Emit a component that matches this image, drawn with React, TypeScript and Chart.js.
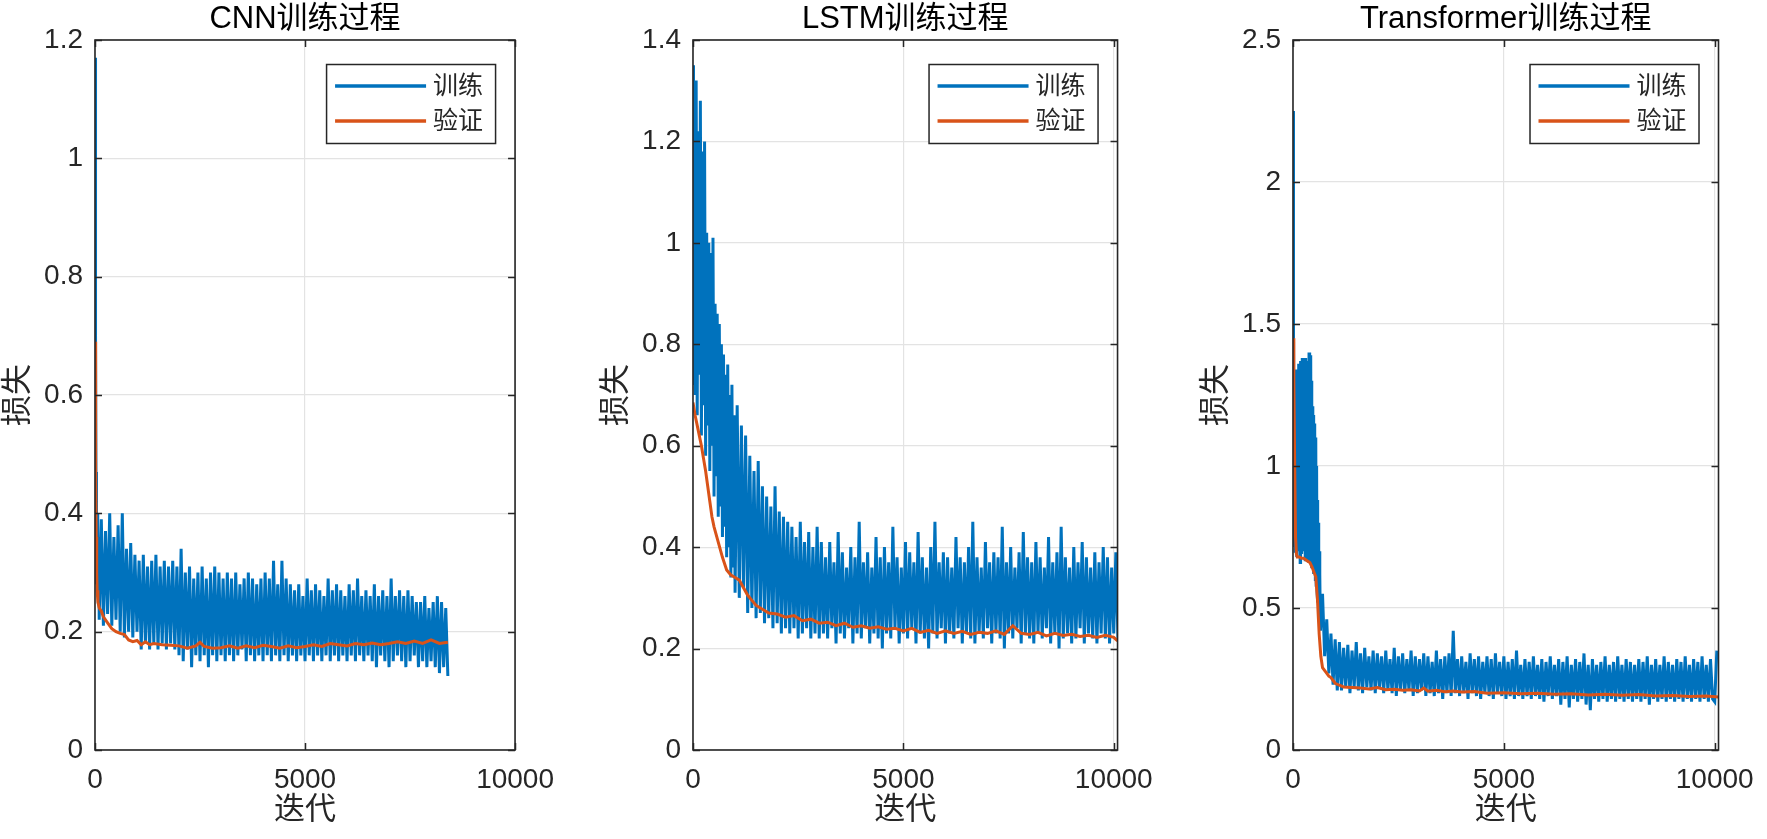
import React, { useEffect, useRef } from 'react';
import { Chart, registerables } from 'chart.js';

Chart.register(...registerables);

// ---------------- data ----------------
const seriesLabels = ['训练', '验证'];
const panelTitles = ['CNN训练过程', 'LSTM训练过程', 'Transformer训练过程'];
const xAxisLabel = '迭代';
const yAxisLabel = '损失';

const xTicks = [0, 5000, 10000];
const xTickLabels = ['0', '5000', '10000'];
const cnnXMax = 10000;
const lstmXMax = 10090;
const transXMax = 10090;

const cnnYTicks = [0, 0.2, 0.4, 0.6, 0.8, 1, 1.2];
const cnnYTickLabels = ['0', '0.2', '0.4', '0.6', '0.8', '1', '1.2'];
const lstmYTicks = [0, 0.2, 0.4, 0.6, 0.8, 1, 1.2, 1.4];
const lstmYTickLabels = ['0', '0.2', '0.4', '0.6', '0.8', '1', '1.2', '1.4'];
const transYTicks = [0, 0.5, 1, 1.5, 2, 2.5];
const transYTickLabels = ['0', '0.5', '1', '1.5', '2', '2.5'];

// training loss: early iterations listed explicitly, then one value every `trainBodyStep` iterations
const trainBodyStep = 50;

const cnnTrainHeadIter = [0, 5, 10, 15, 20, 25, 30, 40, 50, 60, 70, 80, 90];
const cnnTrainHeadLoss = [1.17, 0.8, 1.02, 0.55, 0.7, 0.42, 0.47, 0.28, 0.4, 0.26, 0.39, 0.25, 0.36];
const cnnTrainBodyStart = 100;
const cnnTrainLoss = [
  0.22, 0.39, 0.21, 0.37, 0.23, 0.4, 0.21, 0.36, 0.22, 0.38,
  0.2, 0.4, 0.19, 0.34, 0.2, 0.35, 0.19, 0.33, 0.2,
  0.32, 0.17, 0.33, 0.18, 0.31, 0.17, 0.32, 0.18, 0.33, 0.17, 0.31, 0.18, 0.32, 0.17, 0.31, 0.18, 0.32, 0.17, 0.31,
  0.16, 0.34, 0.15, 0.3, 0.17, 0.31, 0.14, 0.29, 0.16, 0.3, 0.15, 0.31, 0.16, 0.29, 0.14, 0.3, 0.16, 0.31, 0.15, 0.3, 0.16, 0.29, 0.15, 0.3,
  0.16, 0.29, 0.15, 0.3, 0.16, 0.28, 0.17, 0.29, 0.15, 0.3, 0.16, 0.29, 0.15, 0.28, 0.16, 0.29, 0.15, 0.3, 0.16, 0.29, 0.15, 0.32, 0.16, 0.28, 0.15, 0.32, 0.16, 0.29, 0.15, 0.28, 0.16,
  0.27, 0.15, 0.28, 0.16, 0.26, 0.15, 0.29, 0.16, 0.27, 0.15, 0.28, 0.16, 0.27, 0.15, 0.26, 0.16, 0.29, 0.15, 0.27, 0.16, 0.28, 0.15, 0.27, 0.16, 0.26, 0.15, 0.28, 0.16, 0.27, 0.15,
  0.29, 0.16, 0.26, 0.15, 0.27, 0.16, 0.26, 0.15, 0.28, 0.14, 0.26, 0.16, 0.27, 0.15, 0.26, 0.14, 0.29, 0.15, 0.26, 0.16, 0.27, 0.15, 0.26, 0.14, 0.27, 0.15, 0.26, 0.16, 0.25,
  0.14, 0.25, 0.15, 0.26, 0.14, 0.24, 0.15, 0.25, 0.14, 0.26, 0.13, 0.25, 0.14, 0.24, 0.125,
];
const cnnValIter = [0, 10, 20, 30, 40, 50, 70, 100, 150, 200, 300, 400, 500, 600, 700, 800, 900, 1000, 1100, 1200, 1300, 1400, 1600, 1800, 2000, 2200, 2400, 2500, 2600, 2800, 3000, 3200, 3400, 3600, 3800, 4000, 4200, 4400, 4600, 4800, 5000, 5200, 5400, 5600, 5800, 6000, 6200, 6400, 6600, 6800, 7000, 7200, 7400, 7600, 7800, 8000, 8200, 8400];
const cnnValLoss = [0.69, 0.55, 0.45, 0.36, 0.3, 0.27, 0.25, 0.24, 0.235, 0.225, 0.215, 0.205, 0.2, 0.197, 0.195, 0.186, 0.183, 0.185, 0.178, 0.183, 0.178, 0.18, 0.178, 0.177, 0.176, 0.172, 0.176, 0.182, 0.175, 0.172, 0.173, 0.176, 0.172, 0.176, 0.173, 0.177, 0.175, 0.172, 0.176, 0.173, 0.175, 0.178, 0.175, 0.18, 0.178, 0.176, 0.18, 0.178, 0.181, 0.178, 0.18, 0.183, 0.18, 0.184, 0.18, 0.186, 0.18, 0.182];

const lstmTrainHeadIter = [0, 5, 10, 15, 20, 25, 50, 75, 100, 125, 150, 175, 200, 225, 250, 275, 300, 325, 350, 375, 400, 425, 450, 475, 500, 525, 550, 575, 600, 625, 650, 675, 700, 725, 750, 775, 800, 825, 850, 875, 900, 925, 950, 975, 1000];
const lstmTrainHeadLoss = [0.75, 1.3, 0.8, 1.35, 0.72, 1.25, 0.7, 1.32, 0.66, 1.22, 0.74, 1.28, 0.62, 1.18, 0.68, 1.2, 0.58, 1.02, 0.64, 1.0, 0.55, 0.98, 0.6, 1.01, 0.5, 0.88, 0.54, 0.86, 0.46, 0.84, 0.48, 0.8, 0.42, 0.78, 0.44, 0.74, 0.38, 0.76, 0.4, 0.7, 0.34, 0.72, 0.36, 0.66, 0.31];
const lstmTrainBodyStart = 1050;
const lstmTrainLoss = [
  0.68, 0.3, 0.64, 0.32, 0.62,
  0.27, 0.58, 0.28, 0.55, 0.26, 0.57, 0.27, 0.52,
  0.25, 0.5, 0.26, 0.48, 0.24, 0.52, 0.25, 0.47, 0.23, 0.46, 0.24, 0.45,
  0.23, 0.44, 0.24, 0.42, 0.22, 0.45, 0.23, 0.41, 0.24, 0.43, 0.22, 0.4, 0.23, 0.44, 0.22, 0.41,
  0.23, 0.38, 0.22, 0.41, 0.24, 0.37, 0.21, 0.43, 0.23, 0.39,
  0.22, 0.36, 0.24, 0.4, 0.21, 0.38, 0.23, 0.45, 0.22, 0.37,
  0.24, 0.39, 0.21, 0.36, 0.23, 0.42, 0.22, 0.38, 0.2, 0.4,
  0.23, 0.37, 0.22, 0.44, 0.24, 0.38, 0.21, 0.36, 0.23, 0.41,
  0.22, 0.39, 0.24, 0.37, 0.21, 0.43, 0.23, 0.38, 0.22, 0.36,
  0.2, 0.4, 0.23, 0.45, 0.22, 0.37, 0.24, 0.39, 0.21, 0.38,
  0.23, 0.36, 0.22, 0.42, 0.24, 0.38, 0.21, 0.37, 0.23, 0.4,
  0.22, 0.45, 0.21, 0.38, 0.23, 0.36, 0.22, 0.41, 0.24, 0.37,
  0.21, 0.39, 0.23, 0.38, 0.22, 0.44, 0.2, 0.37, 0.23, 0.4,
  0.22, 0.36, 0.24, 0.39, 0.21, 0.43, 0.23, 0.38, 0.22, 0.37,
  0.21, 0.41, 0.23, 0.38, 0.22, 0.36, 0.24, 0.42, 0.21, 0.37,
  0.23, 0.39, 0.2, 0.44, 0.22, 0.38, 0.23, 0.36, 0.21, 0.4,
  0.22, 0.37, 0.24, 0.41, 0.21, 0.38, 0.23, 0.36, 0.22, 0.39,
  0.21, 0.37, 0.23, 0.4, 0.22, 0.38, 0.21, 0.36, 0.23, 0.39,
  0.22,
];
const lstmValIter = [0, 50, 100, 150, 200, 250, 300, 350, 400, 450, 500, 600, 700, 800, 900, 1000, 1100, 1200, 1300, 1400, 1500, 1600, 1700, 1800, 2000, 2200, 2400, 2600, 2800, 3000, 3200, 3400, 3600, 3800, 4000, 4200, 4400, 4600, 4800, 5000, 5200, 5400, 5600, 5800, 6000, 6200, 6400, 6600, 6800, 7000, 7200, 7400, 7600, 7800, 8000, 8200, 8400, 8600, 8800, 9000, 9200, 9400, 9600, 9800, 10000, 10090];
const lstmValLoss = [0.685, 0.66, 0.64, 0.62, 0.6, 0.575, 0.55, 0.52, 0.49, 0.46, 0.44, 0.41, 0.38, 0.355, 0.345, 0.34, 0.335, 0.32, 0.305, 0.295, 0.285, 0.28, 0.275, 0.27, 0.268, 0.262, 0.265, 0.255, 0.258, 0.25, 0.252, 0.245, 0.25, 0.242, 0.245, 0.24, 0.243, 0.238, 0.24, 0.235, 0.24, 0.232, 0.236, 0.23, 0.235, 0.23, 0.234, 0.228, 0.232, 0.23, 0.235, 0.228, 0.245, 0.23, 0.228, 0.232, 0.225, 0.23, 0.226, 0.228, 0.224, 0.226, 0.222, 0.226, 0.222, 0.215];

const transTrainHeadIter = [0, 5, 10, 15, 20, 30, 40, 50, 60, 70, 80, 90, 100, 110, 120, 130, 140, 150, 160, 170, 180, 190, 200, 210, 220, 230, 240, 250, 260, 270, 280, 290, 300, 310, 320, 330, 340, 350, 360, 370, 380, 390, 400, 410, 420, 430, 440, 450, 460, 470, 480, 490, 500, 510, 520, 530, 540, 550, 560, 570, 580, 590, 600, 610, 620, 630, 640];
const transTrainHeadLoss = [2.25, 1.2, 1.9, 0.9, 1.45, 0.72, 1.3, 0.7, 1.34, 0.78, 1.25, 0.68, 1.33, 0.74, 1.28, 0.7, 1.36, 0.8, 1.3, 0.66, 1.37, 0.75, 1.32, 0.69, 1.38, 0.78, 1.3, 0.7, 1.35, 0.73, 1.27, 0.67, 1.38, 0.76, 1.33, 0.7, 1.37, 0.74, 1.29, 0.66, 1.4, 0.72, 1.34, 0.68, 1.39, 0.75, 1.3, 0.64, 1.21, 0.7, 1.18, 0.62, 1.15, 0.66, 1.12, 0.6, 1.1, 0.58, 1.0, 0.56, 0.88, 0.52, 0.8, 0.5, 0.7, 0.45, 0.62];
const transTrainBodyStart = 650;
const transTrainLoss = [
  0.42, 0.55, 0.33, 0.46, 0.27, 0.41, 0.23, 0.39, 0.21,
  0.38, 0.21, 0.36, 0.22, 0.37, 0.2, 0.35, 0.22, 0.38, 0.21,
  0.34, 0.2, 0.36, 0.22, 0.33, 0.21, 0.35, 0.2, 0.34, 0.22,
  0.33, 0.2, 0.35, 0.21, 0.32, 0.2, 0.36, 0.19, 0.33, 0.21,
  0.34, 0.2, 0.32, 0.21, 0.35, 0.19, 0.33, 0.2, 0.32, 0.21,
  0.34, 0.19, 0.33, 0.2, 0.31, 0.19, 0.35, 0.2, 0.32, 0.18,
  0.33, 0.2, 0.34, 0.19, 0.42, 0.2, 0.32, 0.19, 0.33, 0.2,
  0.31, 0.18, 0.34, 0.2, 0.32, 0.19, 0.33, 0.18, 0.31, 0.2,
  0.33, 0.19, 0.32, 0.18, 0.34, 0.2, 0.31, 0.19, 0.33, 0.18,
  0.31, 0.19, 0.32, 0.18, 0.35, 0.19, 0.3, 0.18, 0.32, 0.19,
  0.31, 0.18, 0.33, 0.19, 0.3, 0.18, 0.32, 0.17, 0.31, 0.19,
  0.33, 0.18, 0.3, 0.19, 0.32, 0.16, 0.31, 0.18, 0.33, 0.15,
  0.3, 0.18, 0.32, 0.17, 0.31, 0.18, 0.34, 0.16, 0.3, 0.14,
  0.32, 0.18, 0.3, 0.17, 0.31, 0.18, 0.33, 0.17, 0.3, 0.18,
  0.31, 0.17, 0.33, 0.18, 0.3, 0.17, 0.32, 0.18, 0.31, 0.17,
  0.3, 0.18, 0.32, 0.17, 0.31, 0.18, 0.33, 0.16, 0.3, 0.18,
  0.32, 0.17, 0.3, 0.18, 0.33, 0.17, 0.31, 0.18, 0.3, 0.17,
  0.32, 0.18, 0.31, 0.17, 0.33, 0.18, 0.3, 0.17, 0.32, 0.18,
  0.31, 0.17, 0.33, 0.18, 0.3, 0.17, 0.32, 0.18, 0.17, 0.35,
];
const transValIter = [0, 20, 40, 60, 80, 100, 150, 200, 250, 300, 350, 400, 450, 500, 540, 580, 620, 660, 700, 775, 850, 900, 1000, 1100, 1200, 1400, 1600, 1800, 2000, 2200, 2400, 2600, 2800, 3000, 3100, 3200, 3400, 3600, 3800, 4000, 4300, 4600, 5000, 5400, 5800, 6200, 6600, 7000, 7400, 7800, 8200, 8600, 9000, 9400, 9800, 10090];
const transValLoss = [1.45, 1.3, 1.0, 0.75, 0.69, 0.68, 0.68, 0.675, 0.675, 0.67, 0.665, 0.66, 0.645, 0.625, 0.61, 0.53, 0.41, 0.33, 0.29, 0.275, 0.26, 0.255, 0.235, 0.228, 0.222, 0.22, 0.218, 0.215, 0.22, 0.212, 0.214, 0.21, 0.212, 0.208, 0.218, 0.207, 0.21, 0.205, 0.208, 0.204, 0.206, 0.2, 0.202, 0.198, 0.2, 0.196, 0.198, 0.194, 0.196, 0.193, 0.195, 0.19, 0.192, 0.188, 0.19, 0.187];

// ---------------- styling ----------------
const FONT = "'Liberation Sans', Arial, 'Noto Sans CJK SC', sans-serif";
const AXIS_COLOR = '#262626';
const TRAIN_COLOR = '#0072BD';
const VAL_COLOR = '#D95319';
const GRID_COLOR = '#E3E3E3';

type Pt = { x: number; y: number };

function trainPoints(headIter: number[], headLoss: number[], bodyStart: number, body: number[]): Pt[] {
  const pts: Pt[] = headIter.map((it, i) => ({ x: it, y: headLoss[i] }));
  body.forEach((v, i) => pts.push({ x: bodyStart + i * trainBodyStep, y: v }));
  return pts;
}
function valPoints(iter: number[], loss: number[]): Pt[] {
  return iter.map((it, i) => ({ x: it, y: loss[i] }));
}

const matlabPlugin = {
  id: 'matlabAxes',
  afterDatasetsDraw(chart: any, _args: any, opts: any) {
    const { ctx, chartArea: a, scales } = chart;
    ctx.save();
    // inward ticks
    ctx.strokeStyle = AXIS_COLOR;
    ctx.lineWidth = 1.5;
    const tl = 7;
    ctx.beginPath();
    scales.x.ticks.forEach((t: any) => {
      const px = Math.round(scales.x.getPixelForValue(t.value)) + 0.5;
      ctx.moveTo(px, a.bottom);
      ctx.lineTo(px, a.bottom - tl);
      ctx.moveTo(px, a.top);
      ctx.lineTo(px, a.top + tl);
    });
    scales.y.ticks.forEach((t: any) => {
      const py = Math.round(scales.y.getPixelForValue(t.value)) + 0.5;
      ctx.moveTo(a.left, py);
      ctx.lineTo(a.left + tl, py);
      ctx.moveTo(a.right, py);
      ctx.lineTo(a.right - tl, py);
    });
    ctx.stroke();
    // box
    ctx.lineWidth = 1.6;
    ctx.strokeRect(a.left, a.top, a.right - a.left, a.bottom - a.top);

    // legend
    const bw = 169;
    const bh = 79;
    const bx = a.right - 20 - bw;
    const by = a.top + 24;
    ctx.fillStyle = '#ffffff';
    ctx.fillRect(bx, by, bw, bh);
    ctx.lineWidth = 1.5;
    ctx.strokeStyle = AXIS_COLOR;
    ctx.strokeRect(bx + 0.5, by + 0.5, bw, bh);
    chart.data.datasets.forEach((ds: any, i: number) => {
      const ly = by + 22 + i * 35;
      ctx.strokeStyle = ds.borderColor;
      ctx.lineWidth = 3.5;
      ctx.beginPath();
      ctx.moveTo(bx + 9, ly);
      ctx.lineTo(bx + 100, ly);
      ctx.stroke();
      ctx.fillStyle = AXIS_COLOR;
      ctx.font = `25px ${FONT}`;
      ctx.textAlign = 'left';
      ctx.textBaseline = 'middle';
      ctx.fillText(ds.label, bx + 107, ly + 1);
    });

    // title
    ctx.fillStyle = '#000000';
    ctx.font = `31px ${FONT}`;
    ctx.textAlign = 'center';
    ctx.textBaseline = 'middle';
    ctx.fillText(opts.title, (a.left + a.right) / 2, 19);
    ctx.restore();
  },
};

type PanelSpec = {
  title: string;
  left: number;
  width: number;
  padRight: number;
  xMax: number;
  yTicks: number[];
  yTickLabels: string[];
  train: Pt[];
  val: Pt[];
};

function makeChart(canvas: HTMLCanvasElement, p: PanelSpec) {
  return new Chart(canvas, {
    type: 'line',
    data: {
      datasets: [
        { label: seriesLabels[0], data: p.train, borderColor: TRAIN_COLOR, borderWidth: 3, pointRadius: 0, tension: 0, order: 2 },
        { label: seriesLabels[1], data: p.val, borderColor: VAL_COLOR, borderWidth: 3, pointRadius: 0, tension: 0, order: 1 },
      ],
    },
    options: {
      responsive: false,
      animation: false,
      events: [],
      layout: { padding: { left: 0, top: 40, right: p.padRight, bottom: 0 } },
      plugins: {
        legend: { display: false },
        tooltip: { enabled: false },
        matlabAxes: { title: p.title },
      } as any,
      scales: {
        x: {
          type: 'linear',
          min: 0,
          max: p.xMax,
          afterBuildTicks: (s: any) => { s.ticks = xTicks.map((v) => ({ value: v })); },
          afterFit: (s: any) => { s.height = 89; },
          grid: { color: GRID_COLOR, lineWidth: 1.2, drawTicks: false },
          border: { display: false },
          ticks: {
            padding: 13,
            color: AXIS_COLOR,
            font: { family: FONT, size: 28 },
            maxRotation: 0,
            callback: (_v: any, i: number) => xTickLabels[i],
          },
          title: { display: true, text: xAxisLabel, color: AXIS_COLOR, font: { family: FONT, size: 31 }, padding: { top: 0, bottom: 10 } },
        },
        y: {
          type: 'linear',
          min: 0,
          max: p.yTicks[p.yTicks.length - 1],
          afterBuildTicks: (s: any) => { s.ticks = p.yTicks.map((v) => ({ value: v })); },
          afterFit: (s: any) => { s.width = 95; },
          grid: { color: GRID_COLOR, lineWidth: 1.2, drawTicks: false },
          border: { display: false },
          ticks: {
            padding: 12,
            color: AXIS_COLOR,
            font: { family: FONT, size: 28 },
            callback: (_v: any, i: number) => p.yTickLabels[i],
          },
          title: { display: true, text: yAxisLabel, color: AXIS_COLOR, font: { family: FONT, size: 31 }, padding: { top: 0, bottom: 0 } },
        },
      },
    } as any,
    plugins: [matlabPlugin],
  });
}

const panels: PanelSpec[] = [
  {
    title: panelTitles[0], left: 0, width: 567, padRight: 35, xMax: cnnXMax,
    yTicks: cnnYTicks, yTickLabels: cnnYTickLabels,
    train: trainPoints(cnnTrainHeadIter, cnnTrainHeadLoss, cnnTrainBodyStart, cnnTrainLoss),
    val: valPoints(cnnValIter, cnnValLoss),
  },
  {
    title: panelTitles[1], left: 598, width: 568, padRight: 35, xMax: lstmXMax,
    yTicks: lstmYTicks, yTickLabels: lstmYTickLabels,
    train: trainPoints(lstmTrainHeadIter, lstmTrainHeadLoss, lstmTrainBodyStart, lstmTrainLoss),
    val: valPoints(lstmValIter, lstmValLoss),
  },
  {
    title: panelTitles[2], left: 1198, width: 569, padRight: 40, xMax: transXMax,
    yTicks: transYTicks, yTickLabels: transYTickLabels,
    train: trainPoints(transTrainHeadIter, transTrainHeadLoss, transTrainBodyStart, transTrainLoss),
    val: valPoints(transValIter, transValLoss),
  },
];

export default function App() {
  const refs = [useRef<HTMLCanvasElement>(null), useRef<HTMLCanvasElement>(null), useRef<HTMLCanvasElement>(null)];
  useEffect(() => {
    const charts = panels.map((p, i) => makeChart(refs[i].current as HTMLCanvasElement, p));
    return () => charts.forEach((c) => c.destroy());
  }, []);
  return (
    <div style={{ position: 'fixed', left: 0, top: 0, width: 1767, height: 839, background: '#ffffff', overflow: 'hidden' }}>
      {panels.map((p, i) => (
        <canvas
          key={i}
          ref={refs[i]}
          width={p.width}
          height={839}
          style={{ position: 'absolute', left: p.left, top: 0, width: p.width, height: 839 }}
        />
      ))}
    </div>
  );
}
